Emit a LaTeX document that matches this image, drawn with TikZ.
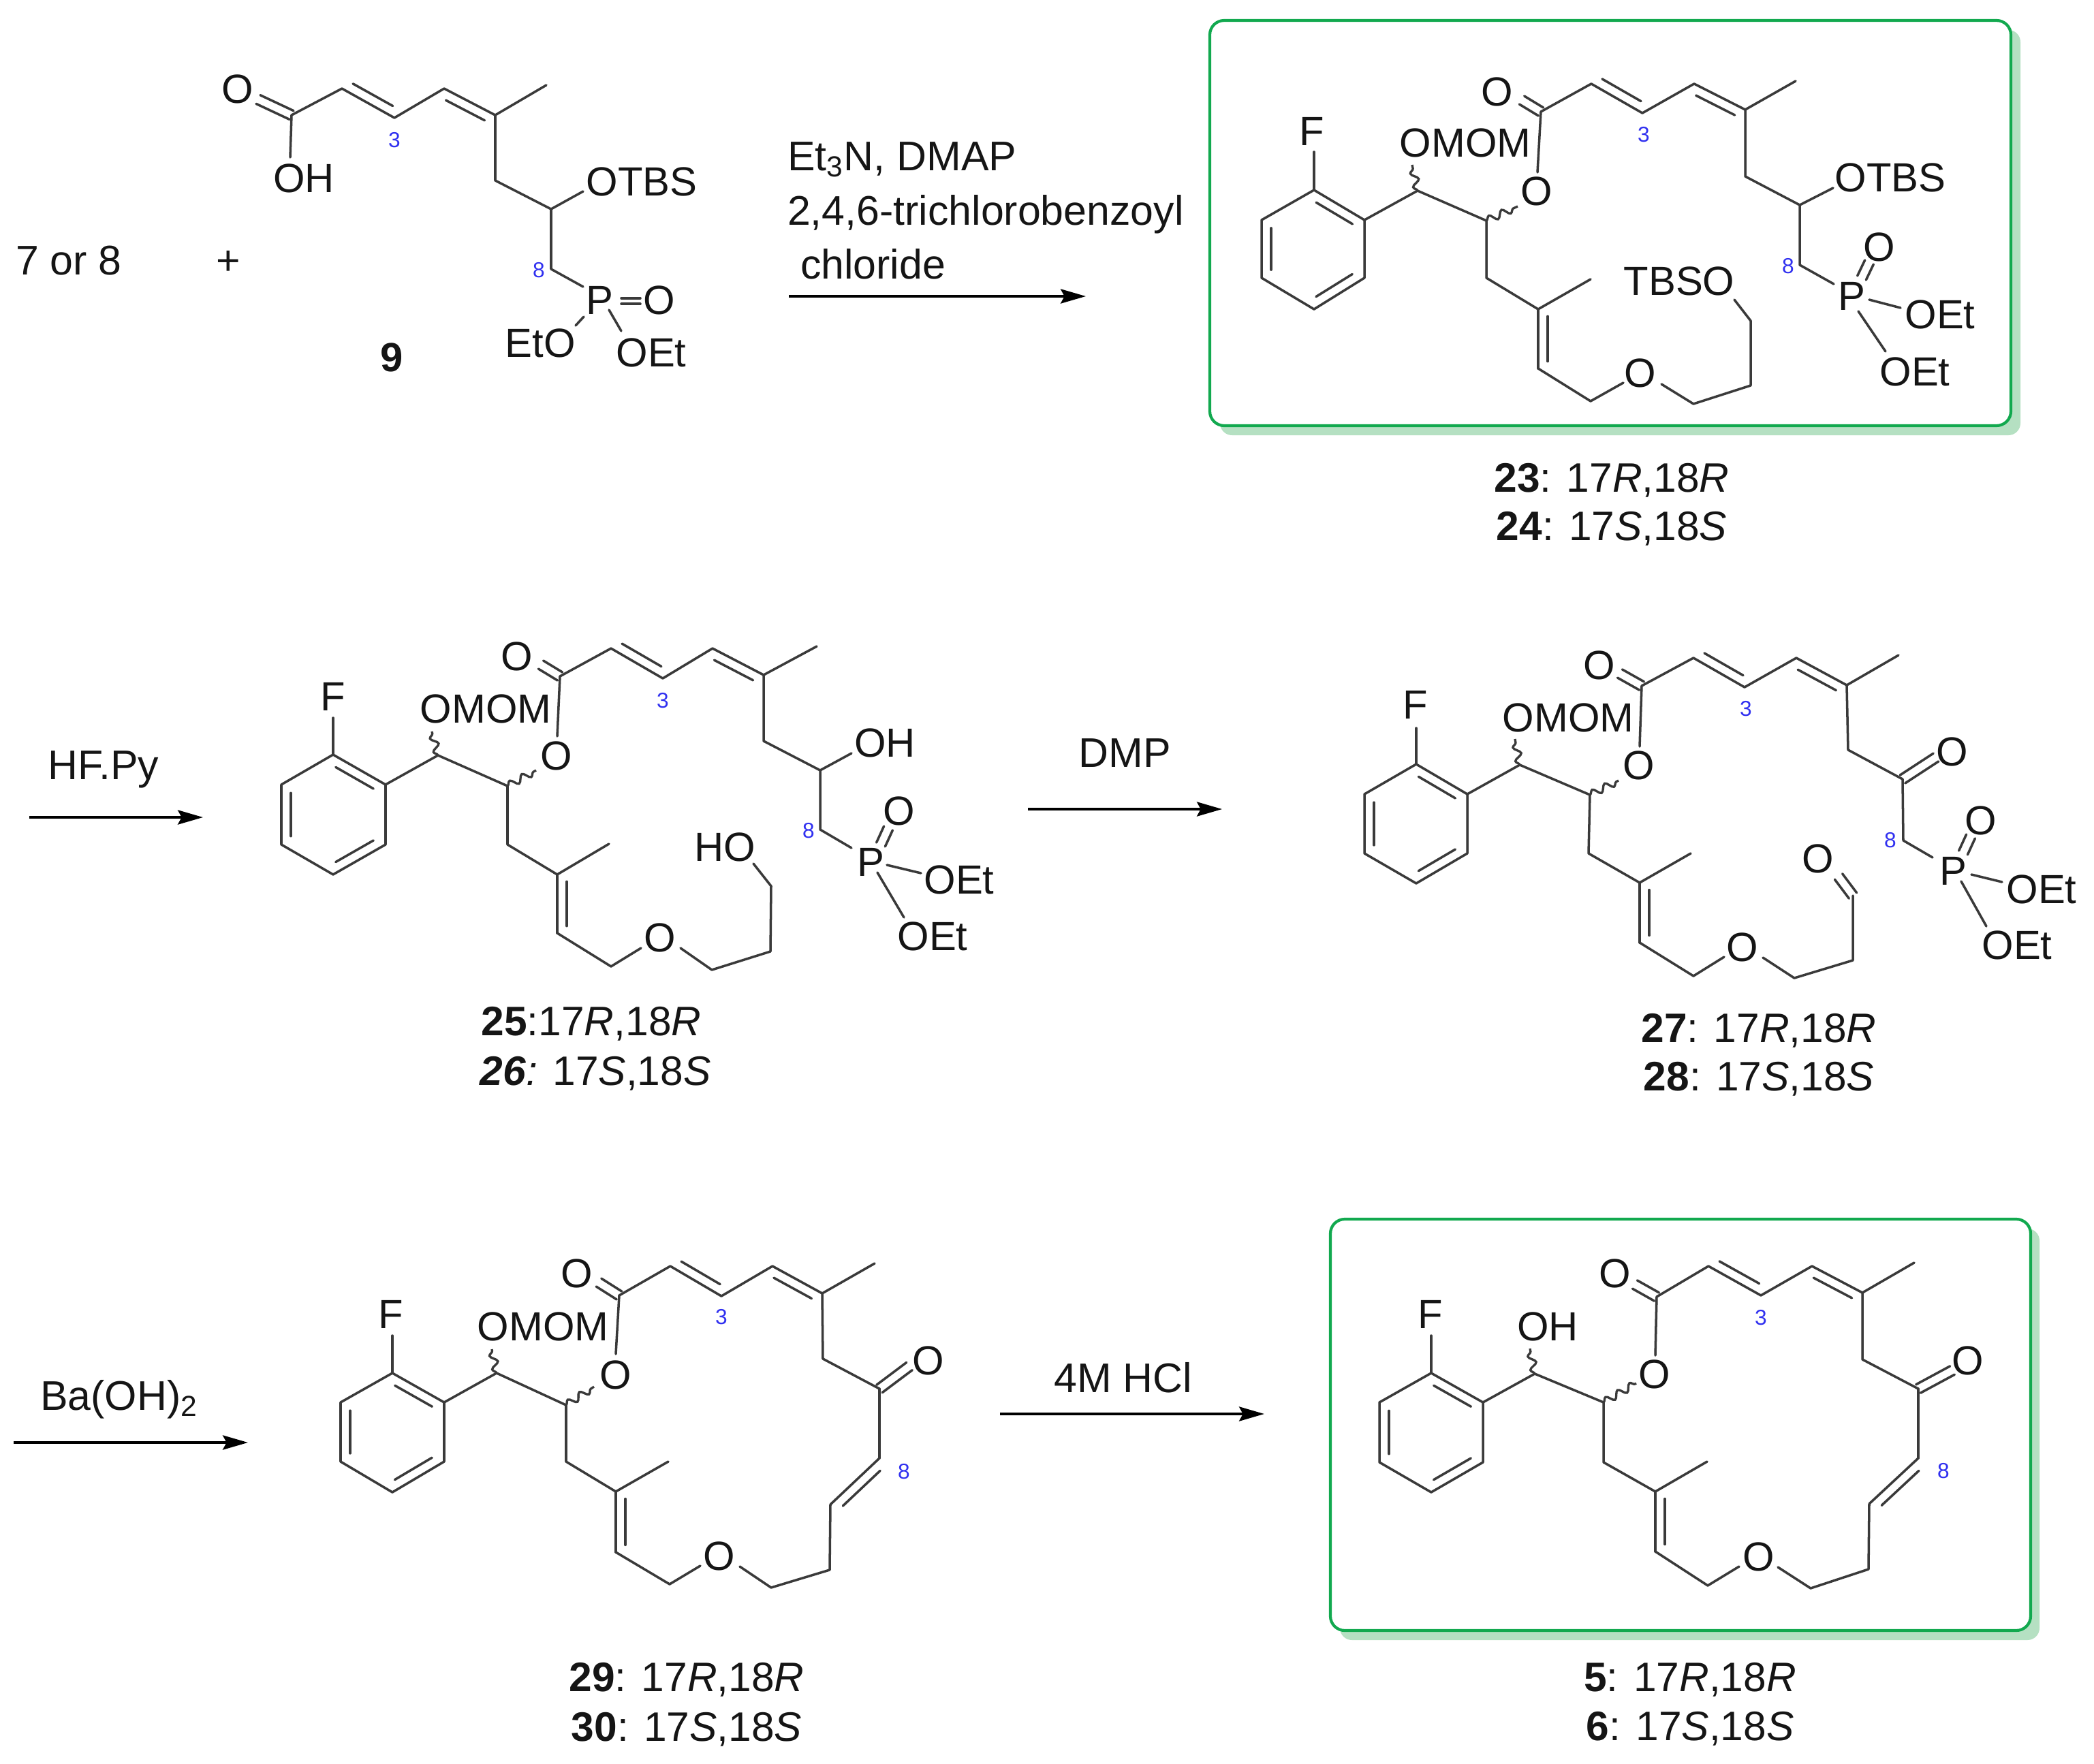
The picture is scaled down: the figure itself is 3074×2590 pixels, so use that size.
\documentclass[tikz,border=0pt]{standalone}
\usepackage{fontspec}
\setmainfont{Liberation Sans}
\usetikzlibrary{calc,arrows.meta,decorations.pathmorphing}
\definecolor{bondc}{HTML}{3A3A3A}
\definecolor{txtc}{HTML}{151515}
\definecolor{numc}{HTML}{3030F0}
\definecolor{boxc}{HTML}{12A94F}
\definecolor{shadc}{HTML}{B5E0C2}
\tikzset{
  bond/.style={line width=1pt,draw=bondc,line cap=round,line join=round},
  wavy/.style={line width=.95pt,draw=bondc,decorate,decoration={snake,amplitude=1.5pt,segment length=5.8pt}},
  lab/.style={inner sep=0pt,outer sep=0pt,text=txtc,font=\fontsize{17pt}{18pt}\selectfont,text height=12.1pt,text depth=0pt},
  num/.style={inner sep=0pt,outer sep=0pt,text=numc,font=\fontsize{9pt}{10pt}\selectfont},
  capt/.style={inner sep=0pt,outer sep=0pt,text=txtc,font=\fontsize{17.2pt}{20pt}\selectfont,text height=12.2pt,text depth=0pt},
  rgt/.style={inner sep=0pt,outer sep=0pt,text=txtc,font=\fontsize{17.3pt}{20pt}\selectfont,text height=12.4pt,text depth=0pt},
  rxn/.style={line width=1.1pt,draw=black,-{Stealth[length=10.5pt,width=6pt,inset=1.6pt]}},
  greenbox/.style={draw=boxc,line width=1.2pt,fill=white,rounded corners=6pt},
  greenshadow/.style={fill=shadc,draw=none,rounded corners=5pt}
}
% double bond: main line plus a shorter parallel one on the given side
\newcommand{\dbond}[3]{%
  \draw[bond] (#1)--(#2);
  \draw[bond] ($(#1)!.12!(#2)!4pt!#3:(#2)$)--($(#1)!.88!(#2)!4pt!#3:(#2)$);}
% symmetric double bond
\newcommand{\sbond}[3][2pt]{%
  \draw[bond] ($(#2)!#1!90:(#3)$)--($(#3)!#1!-90:(#2)$);
  \draw[bond] ($(#2)!#1!-90:(#3)$)--($(#3)!#1!90:(#2)$);}
% benzene ring from six named corners
\newcommand{\ringbonds}[1]{%
  \draw[bond] (#1a)--(#1b)--(#1c)--(#1d)--(#1e)--(#1f)--cycle;
  \draw[bond] ($(#1a)!.14!(#1b)!4pt!-90:(#1b)$)--($(#1a)!.86!(#1b)!4pt!-90:(#1b)$);
  \draw[bond] ($(#1c)!.14!(#1d)!4pt!-90:(#1d)$)--($(#1c)!.86!(#1d)!4pt!-90:(#1d)$);
  \draw[bond] ($(#1e)!.14!(#1f)!4pt!-90:(#1f)$)--($(#1e)!.86!(#1f)!4pt!-90:(#1f)$);}
\begin{document}
\begin{tikzpicture}[x=0.01cm,y=-0.01cm]
\useasboundingbox (0,0) rectangle (3074,2590);
% ---------- green boxes
\fill[greenshadow] (1791,44) rectangle (2966,639);
\draw[greenbox] (1776,30) rectangle (2952,625);
\fill[greenshadow] (1967,1804) rectangle (2994,2408);
\draw[greenbox] (1953,1790) rectangle (2981,2394);

% ---------- compound 9
\node[lab] (aO) at (349,130) {O};
\node[lab] (aOH) at (446,261) {OH};
\node[lab] (aOTBS) at (942,266) {OTBS};
\node[lab] (aP) at (880,440) {P};
\node[lab] (aPO) at (968,440) {O};
\node[lab] (aEtO) at (793,503) {EtO};
\node[lab] (aOEt) at (956,517) {OEt};
\node[num] (a3) at (579,206) {3};
\node[num] (a8) at (791,397) {8};
\coordinate (aC) at (428,169);
\coordinate (aOe) at (379,146);
\coordinate (aB) at (502,130);
\coordinate (aD) at (579,173);
\coordinate (aE) at (652,130);
\coordinate (aG) at (727,169);
\coordinate (aMe) at (802,125);
\coordinate (aH) at (727,265);
\coordinate (aI) at (809,307);
\coordinate (aJ) at (856,281);
\coordinate (aK) at (809,395);
\coordinate (aL) at (856,421);
\coordinate (aOHe) at (426,231);
\coordinate (aPa) at (912,442);
\coordinate (aPb) at (940,442);
\coordinate (aPc) at (857,465);
\coordinate (aPd) at (845,478);
\coordinate (aPe) at (894,455);
\coordinate (aPf) at (912,486);
\sbond{aC}{aOe}
\draw[bond] (aOHe)--(aC)--(aB);
\dbond{aB}{aD}{90}
\draw[bond] (aD)--(aE);
\dbond{aE}{aG}{-90}
\draw[bond] (aMe)--(aG)--(aH)--(aI)--(aJ);
\draw[bond] (aI)--(aK)--(aL);
\sbond[1.2pt]{aPa}{aPb}
\draw[bond] (aPc)--(aPd);
\draw[bond] (aPe)--(aPf);

% ---------- text row 1
\node[rgt,anchor=west] (t78) at (23,382) {7 or 8};
\node[rgt] (tplus) at (335,382) {+};
\node[capt,font=\fontsize{17pt}{20pt}\selectfont\bfseries] (t9) at (575,524) {9};
\node[rgt,anchor=west] (r1a) at (1156,229) {Et\textsubscript{3}N, DMAP};
\node[rgt,anchor=west] (r1b) at (1156,309) {2,4,6-trichlorobenzoyl};
\node[rgt,anchor=west] (r1c) at (1175,388) {chloride};
\coordinate (r1s) at (1158,435);
\coordinate (r1e) at (1594,435);
\draw[rxn] (r1s)--(r1e);

% ---------- compound 23/24
\coordinate (ba) at (1929,279);\coordinate (bb) at (2003,323);\coordinate (bc) at (2003,408);
\coordinate (bd) at (1929,454);\coordinate (be) at (1852,408);\coordinate (bf) at (1852,323);
\ringbonds{b}
\node[lab] (bF) at (1926,192) {F};
\node[lab] (bOMOM) at (2151,209) {OMOM};
\node[lab] (bOr) at (2256,280) {O};
\node[lab] (bO) at (2198,134) {O};
\node[lab] (bOTBS) at (2775,260) {OTBS};
\node[lab] (bP) at (2718,434) {P};
\node[lab] (bPO) at (2759,362) {O};
\node[lab] (bOEt) at (2848,461) {OEt};
\node[lab] (bOEtt) at (2811,545) {OEt};
\node[lab] (bTBSO) at (2465,412) {TBSO};
\node[lab] (bOe) at (2408,547) {O};
\node[num] (b3) at (2413,198) {3};
\node[num] (b8) at (2625,391) {8};
\coordinate (bFe) at (1929,223);
\coordinate (bG) at (2081,280);
\coordinate (bH) at (2182,324);
\coordinate (bWa) at (2073,242);
\coordinate (bWb) at (2228,303);
\coordinate (bC) at (2262,164);
\coordinate (bOb) at (2257,253);
\coordinate (bOd) at (2234,147);
\coordinate (bI) at (2336,123);
\coordinate (bJ) at (2411,166);
\coordinate (bK) at (2487,123);
\coordinate (bL) at (2562,161);
\coordinate (bMe) at (2636,119);
\coordinate (bM) at (2562,259);
\coordinate (bN) at (2642,301);
\coordinate (bNe) at (2691,276);
\coordinate (bQ) at (2642,389);
\coordinate (bQe) at (2692,417);
\coordinate (bPa) at (2733,408);
\coordinate (bPb) at (2744,385);
\coordinate (bPc) at (2744,440);
\coordinate (bPd) at (2790,452);
\coordinate (bPe) at (2728,457);
\coordinate (bPf) at (2768,516);
\coordinate (bR) at (2182,408);
\coordinate (bS) at (2258,454);
\coordinate (bT) at (2335,410);
\coordinate (bU) at (2258,541);
\coordinate (bV) at (2335,589);
\coordinate (bOa) at (2383,562);
\coordinate (bOc) at (2439,564);
\coordinate (bW) at (2486,593);
\coordinate (bX) at (2570,566);
\coordinate (bY) at (2570,471);
\coordinate (bYe) at (2546,440);
\draw[bond] (bFe)--(ba);
\draw[bond] (bb)--(bG)--(bH)--(bR)--(bS)--(bT);
\draw[wavy] (bG)--(bWa);
\draw[wavy] (bH)--(bWb);
\draw[bond] (bOb)--(bC)--(bI);
\sbond{bC}{bOd}
\dbond{bI}{bJ}{90}
\draw[bond] (bJ)--(bK);
\dbond{bK}{bL}{-90}
\draw[bond] (bMe)--(bL)--(bM)--(bN)--(bNe);
\draw[bond] (bN)--(bQ)--(bQe);
\sbond{bPa}{bPb}
\draw[bond] (bPc)--(bPd);
\draw[bond] (bPe)--(bPf);
\dbond{bS}{bU}{90}
\draw[bond] (bU)--(bV)--(bOa);
\draw[bond] (bOc)--(bW)--(bX)--(bY)--(bYe);
\node[capt] (l23) at (2366,701) {\textbf{23}: 17\textit{R},18\textit{R}};
\node[capt] (l24) at (2366,772) {\textbf{24}: 17\textit{S},18\textit{S}};

% ---------- row 2 arrows
\node[rgt] (r2) at (152,1123) {HF.Py};
\coordinate (r2s) at (43,1200);
\coordinate (r2e) at (298,1200);
\draw[rxn] (r2s)--(r2e);
\node[rgt] (r3) at (1651,1105) {DMP};
\coordinate (r3s) at (1509,1188);
\coordinate (r3e) at (1794,1188);
\draw[rxn] (r3s)--(r3e);

% ---------- compound 25/26
\coordinate (ca) at (489,1108);\coordinate (cb) at (566,1152);\coordinate (cc) at (566,1240);
\coordinate (cd) at (489,1284);\coordinate (ce) at (413,1240);\coordinate (cf) at (413,1152);
\ringbonds{c}
\node[lab] (cF) at (489,1022) {F};
\node[lab] (cOMOM) at (713,1040) {OMOM};
\node[lab] (cOr) at (817,1109) {O};
\node[lab] (cO) at (759,963) {O};
\node[lab] (cOH) at (1299,1090) {OH};
\node[lab] (cP) at (1278,1265) {P};
\node[lab] (cPO) at (1320,1190) {O};
\node[lab] (cOEt) at (1408,1291) {OEt};
\node[lab] (cOEtt) at (1369,1374) {OEt};
\node[lab] (cHO) at (1064,1243) {HO};
\node[lab] (cOe) at (969,1376) {O};
\node[num] (c3) at (973,1029) {3};
\node[num] (c8) at (1187,1220) {8};
\coordinate (cFe) at (489,1054);
\coordinate (cG) at (643,1109);
\coordinate (cH) at (745,1154);
\coordinate (cWa) at (634,1074);
\coordinate (cWb) at (787,1131);
\coordinate (cC) at (822,993);
\coordinate (cOb) at (818,1081);
\coordinate (cOd) at (794,976);
\coordinate (cI) at (897,952);
\coordinate (cJ) at (973,996);
\coordinate (cK) at (1046,952);
\coordinate (cL) at (1121,991);
\coordinate (cMe) at (1199,949);
\coordinate (cM) at (1121,1088);
\coordinate (cN) at (1204,1131);
\coordinate (cNe) at (1250,1106);
\coordinate (cQ) at (1204,1218);
\coordinate (cQe) at (1250,1245);
\coordinate (cPa) at (1293,1240);
\coordinate (cPb) at (1304,1216);
\coordinate (cPc) at (1302,1270);
\coordinate (cPd) at (1352,1282);
\coordinate (cPe) at (1288,1281);
\coordinate (cPf) at (1327,1347);
\coordinate (cR) at (745,1240);
\coordinate (cS) at (818,1284);
\coordinate (cT) at (894,1239);
\coordinate (cU) at (818,1370);
\coordinate (cV) at (897,1419);
\coordinate (cOa) at (941,1392);
\coordinate (cOc) at (999,1392);
\coordinate (cW) at (1045,1424);
\coordinate (cX) at (1131,1397);
\coordinate (cY) at (1132,1301);
\coordinate (cYe) at (1106,1268);
\draw[bond] (cFe)--(ca);
\draw[bond] (cb)--(cG)--(cH)--(cR)--(cS)--(cT);
\draw[wavy] (cG)--(cWa);
\draw[wavy] (cH)--(cWb);
\draw[bond] (cOb)--(cC)--(cI);
\sbond{cC}{cOd}
\dbond{cI}{cJ}{90}
\draw[bond] (cJ)--(cK);
\dbond{cK}{cL}{-90}
\draw[bond] (cMe)--(cL)--(cM)--(cN)--(cNe);
\draw[bond] (cN)--(cQ)--(cQe);
\sbond{cPa}{cPb}
\draw[bond] (cPc)--(cPd);
\draw[bond] (cPe)--(cPf);
\dbond{cS}{cU}{90}
\draw[bond] (cU)--(cV)--(cOa);
\draw[bond] (cOc)--(cW)--(cX)--(cY)--(cYe);
\node[capt] (l25) at (868,1499) {\textbf{25}:17\textit{R},18\textit{R}};
\node[capt] (l26) at (874,1572) {\textbf{\textit{26}}\textit{:} 17\textit{S},18\textit{S}};

% ---------- compound 27/28
\coordinate (da) at (2079,1122);\coordinate (db) at (2154,1166);\coordinate (dc) at (2154,1253);
\coordinate (dd) at (2079,1297);\coordinate (de) at (2003,1253);\coordinate (df) at (2003,1166);
\ringbonds{d}
\node[lab] (dF) at (2078,1034) {F};
\node[lab] (dOMOM) at (2302,1053) {OMOM};
\node[lab] (dOr) at (2406,1123) {O};
\node[lab] (dO) at (2348,976) {O};
\node[lab] (dOk) at (2866,1103) {O};
\node[lab] (dP) at (2867,1278) {P};
\node[lab] (dPO) at (2908,1204) {O};
\node[lab] (dOEt) at (2997,1305) {OEt};
\node[lab] (dOEtt) at (2961,1387) {OEt};
\node[lab] (dOa) at (2669,1260) {O};
\node[lab] (dOe) at (2558,1390) {O};
\node[num] (d3) at (2563,1041) {3};
\node[num] (d8) at (2775,1234) {8};
\coordinate (dFe) at (2079,1069);
\coordinate (dG) at (2231,1123);
\coordinate (dH) at (2334,1167);
\coordinate (dWa) at (2224,1085);
\coordinate (dWb) at (2376,1146);
\coordinate (dC) at (2410,1007);
\coordinate (dOb) at (2407,1096);
\coordinate (dOd) at (2378,989);
\coordinate (dI) at (2486,966);
\coordinate (dJ) at (2561,1009);
\coordinate (dK) at (2637,966);
\coordinate (dL) at (2711,1006);
\coordinate (dMe) at (2787,962);
\coordinate (dM) at (2713,1101);
\coordinate (dN) at (2793,1144);
\coordinate (dNe) at (2842,1112);
\coordinate (dQ) at (2794,1234);
\coordinate (dQe) at (2837,1259);
\coordinate (dPa) at (2882,1252);
\coordinate (dPb) at (2893,1228);
\coordinate (dPc) at (2894,1284);
\coordinate (dPd) at (2939,1295);
\coordinate (dPe) at (2879,1294);
\coordinate (dPf) at (2916,1360);
\coordinate (dR) at (2332,1253);
\coordinate (dS) at (2407,1296);
\coordinate (dT) at (2482,1253);
\coordinate (dU) at (2407,1384);
\coordinate (dV) at (2486,1433);
\coordinate (dOf) at (2531,1405);
\coordinate (dOc) at (2588,1406);
\coordinate (dW) at (2634,1436);
\coordinate (dX) at (2720,1410);
\coordinate (dY) at (2720,1315);
\coordinate (dYe) at (2699,1287);
\draw[bond] (dFe)--(da);
\draw[bond] (db)--(dG)--(dH)--(dR)--(dS)--(dT);
\draw[wavy] (dG)--(dWa);
\draw[wavy] (dH)--(dWb);
\draw[bond] (dOb)--(dC)--(dI);
\sbond{dC}{dOd}
\dbond{dI}{dJ}{90}
\draw[bond] (dJ)--(dK);
\dbond{dK}{dL}{-90}
\draw[bond] (dMe)--(dL)--(dM)--(dN);
\sbond{dN}{dNe}
\draw[bond] (dN)--(dQ)--(dQe);
\sbond{dPa}{dPb}
\draw[bond] (dPc)--(dPd);
\draw[bond] (dPe)--(dPf);
\dbond{dS}{dU}{90}
\draw[bond] (dU)--(dV)--(dOf);
\draw[bond] (dOc)--(dW)--(dX)--(dY);
\sbond{dY}{dYe}
\node[capt] (l27) at (2582,1509) {\textbf{27}: 17\textit{R},18\textit{R}};
\node[capt] (l28) at (2582,1580) {\textbf{28}: 17\textit{S},18\textit{S}};

% ---------- row 3 arrows
\node[rgt] (r4) at (175,2049) {Ba(OH)\textsubscript{2}};
\coordinate (r4s) at (20,2118);
\coordinate (r4e) at (364,2118);
\draw[rxn] (r4s)--(r4e);
\node[rgt] (r5) at (1649,2023) {4M HCl};
\coordinate (r5s) at (1468,2076);
\coordinate (r5e) at (1856,2076);
\draw[rxn] (r5s)--(r5e);

% ---------- compound 29/30
\coordinate (ea) at (576,2016);\coordinate (eb) at (652,2059);\coordinate (ec) at (652,2146);
\coordinate (ed) at (576,2191);\coordinate (ee) at (500,2146);\coordinate (ef) at (500,2059);
\ringbonds{e}
\node[lab] (eF) at (574,1929) {F};
\node[lab] (eOMOM) at (797,1947) {OMOM};
\node[lab] (eOr) at (904,2018) {O};
\node[lab] (eO) at (847,1869) {O};
\node[lab] (eOk) at (1363,1997) {O};
\node[lab] (eOe) at (1056,2284) {O};
\node[num] (e3) at (1059,1934) {3};
\node[num] (e8) at (1327,2161) {8};
\coordinate (eFe) at (576,1961);
\coordinate (eG) at (729,2016);
\coordinate (eH) at (831,2063);
\coordinate (eWa) at (722,1981);
\coordinate (eWb) at (872,2036);
\coordinate (eC) at (909,1902);
\coordinate (eOb) at (904,1988);
\coordinate (eOd) at (879,1883);
\coordinate (eI) at (984,1859);
\coordinate (eJ) at (1059,1903);
\coordinate (eK) at (1134,1859);
\coordinate (eL) at (1207,1899);
\coordinate (eMe) at (1284,1855);
\coordinate (eM) at (1208,1995);
\coordinate (eN) at (1291,2039);
\coordinate (eNe) at (1335,2006);
\coordinate (eQ) at (1291,2141);
\coordinate (eP) at (1219,2209);
\coordinate (eR) at (1218,2305);
\coordinate (eS) at (1132,2331);
\coordinate (eOc) at (1086,2300);
\coordinate (eOf) at (1028,2299);
\coordinate (eV) at (983,2326);
\coordinate (eU) at (904,2279);
\coordinate (eT) at (904,2190);
\coordinate (eX) at (981,2146);
\coordinate (eY) at (831,2146);
\draw[bond] (eFe)--(ea);
\draw[bond] (eb)--(eG)--(eH)--(eY)--(eT)--(eX);
\draw[wavy] (eG)--(eWa);
\draw[wavy] (eH)--(eWb);
\draw[bond] (eOb)--(eC)--(eI);
\sbond{eC}{eOd}
\dbond{eI}{eJ}{90}
\draw[bond] (eJ)--(eK);
\dbond{eK}{eL}{-90}
\draw[bond] (eMe)--(eL)--(eM)--(eN);
\sbond{eN}{eNe}
\draw[bond] (eN)--(eQ);
\dbond{eQ}{eP}{90}
\draw[bond] (eP)--(eR)--(eS)--(eOc);
\dbond{eT}{eU}{90}
\draw[bond] (eU)--(eV)--(eOf);
\node[capt] (l29) at (1008,2462) {\textbf{29}: 17\textit{R},18\textit{R}};
\node[capt] (l30) at (1008,2535) {\textbf{30}: 17\textit{S},18\textit{S}};

% ---------- compound 5/6
\coordinate (fa) at (2101,2016);\coordinate (fb) at (2177,2059);\coordinate (fc) at (2177,2147);
\coordinate (fd) at (2101,2191);\coordinate (fe) at (2025,2147);\coordinate (ff) at (2025,2059);
\ringbonds{f}
\node[lab] (fF) at (2100,1929) {F};
\node[lab] (fOH) at (2272,1947) {OH};
\node[lab] (fOr) at (2429,2017) {O};
\node[lab] (fO) at (2371,1869) {O};
\node[lab] (fOk) at (2889,1997) {O};
\node[lab] (fOe) at (2582,2285) {O};
\node[num] (f3) at (2585,1935) {3};
\node[num] (f8) at (2853,2160) {8};
\coordinate (fFe) at (2101,1961);
\coordinate (fG) at (2253,2017);
\coordinate (fH) at (2354,2059);
\coordinate (fWa) at (2246,1980);
\coordinate (fWb) at (2402,2031);
\coordinate (fC) at (2432,1904);
\coordinate (fOb) at (2430,1990);
\coordinate (fOd) at (2400,1886);
\coordinate (fI) at (2508,1859);
\coordinate (fJ) at (2585,1902);
\coordinate (fK) at (2660,1859);
\coordinate (fL) at (2734,1898);
\coordinate (fMe) at (2810,1854);
\coordinate (fM) at (2734,1996);
\coordinate (fN) at (2816,2039);
\coordinate (fNe) at (2866,2012);
\coordinate (fQ) at (2816,2141);
\coordinate (fP) at (2744,2208);
\coordinate (fR) at (2743,2304);
\coordinate (fS) at (2658,2332);
\coordinate (fOc) at (2610,2301);
\coordinate (fOf) at (2553,2300);
\coordinate (fV) at (2507,2328);
\coordinate (fU) at (2430,2278);
\coordinate (fT) at (2430,2190);
\coordinate (fX) at (2506,2146);
\coordinate (fY) at (2354,2147);
\draw[bond] (fFe)--(fa);
\draw[bond] (fb)--(fG)--(fH)--(fY)--(fT)--(fX);
\draw[wavy] (fG)--(fWa);
\draw[wavy] (fH)--(fWb);
\draw[bond] (fOb)--(fC)--(fI);
\sbond{fC}{fOd}
\dbond{fI}{fJ}{90}
\draw[bond] (fJ)--(fK);
\dbond{fK}{fL}{-90}
\draw[bond] (fMe)--(fL)--(fM)--(fN);
\sbond{fN}{fNe}
\draw[bond] (fN)--(fQ);
\dbond{fQ}{fP}{90}
\draw[bond] (fP)--(fR)--(fS)--(fOc);
\dbond{fT}{fU}{90}
\draw[bond] (fU)--(fV)--(fOf);
\node[capt] (l5) at (2481,2462) {\textbf{5}: 17\textit{R},18\textit{R}};
\node[capt] (l6) at (2481,2534) {\textbf{6}: 17\textit{S},18\textit{S}};
\end{tikzpicture}
\end{document}
